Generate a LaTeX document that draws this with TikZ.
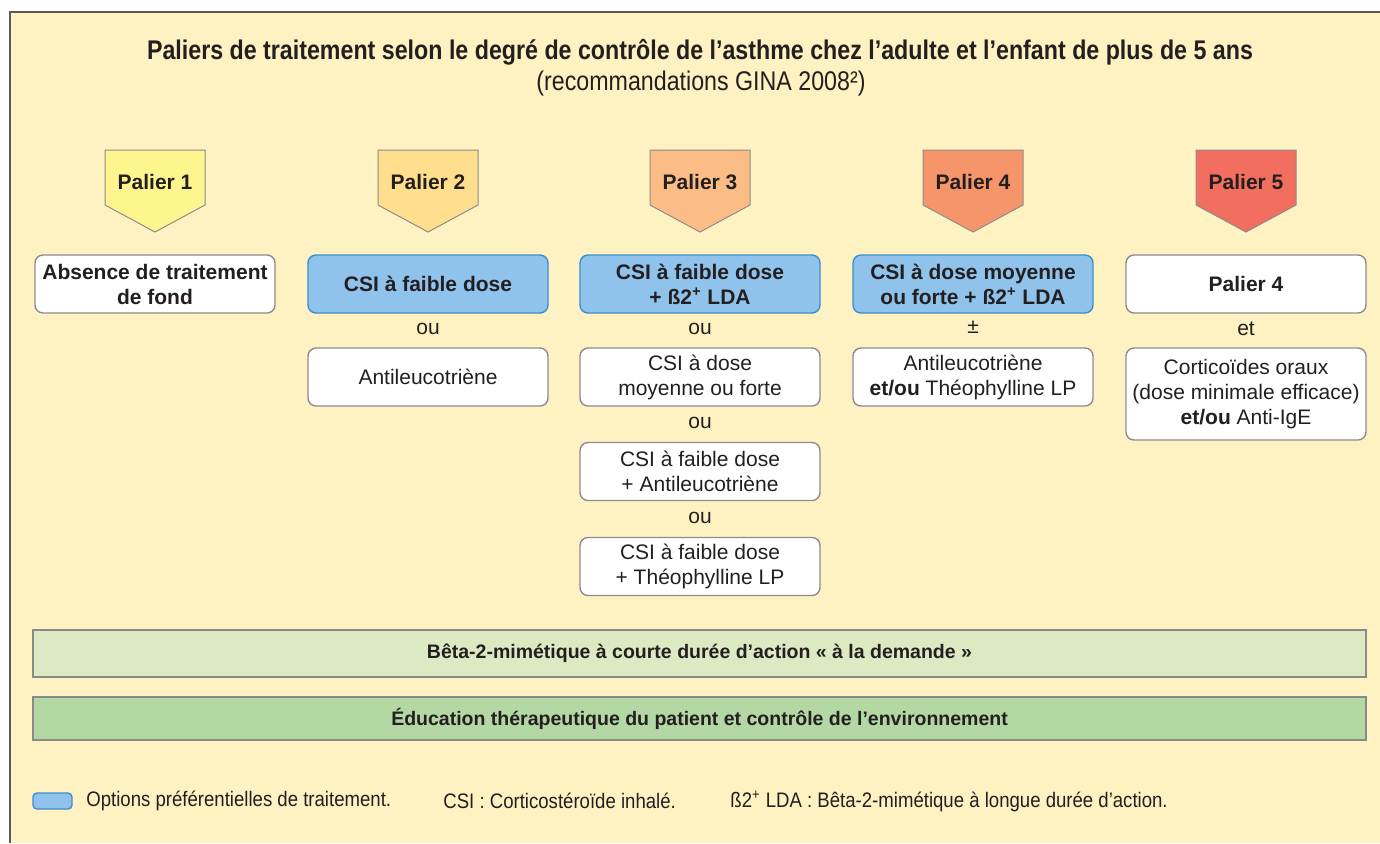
\documentclass[tikz,border=0pt]{standalone}
\usepackage{fontspec}
\setmainfont{Liberation Sans}
\newfontfamily\narrowfont[FakeStretch=0.86]{Liberation Sans}
\newfontfamily\legendfont[FakeStretch=0.885]{Liberation Sans}
\usepackage{tikz}
\usetikzlibrary{positioning}
\definecolor{bgyellow}{HTML}{FFF2C2}
\definecolor{framegray}{HTML}{5A5A5A}
\definecolor{ink}{HTML}{231F20}
\definecolor{palA}{HTML}{FFF58F}
\definecolor{palB}{HTML}{FFDF8E}
\definecolor{palC}{HTML}{FBBD85}
\definecolor{palD}{HTML}{F6956A}
\definecolor{palE}{HTML}{F26E5E}
\definecolor{preffill}{HTML}{90C3EC}
\definecolor{prefblue}{HTML}{3C8ED3}
\definecolor{boxgray}{HTML}{8C8C8C}
\definecolor{bandA}{HTML}{DDE9C2}
\definecolor{bandB}{HTML}{B4D8A4}
\definecolor{bandgray}{HTML}{8A8A8A}

\begin{document}
\begin{tikzpicture}[x=0.5pt, y=-0.5pt,
  title/.style={font=\narrowfont\bfseries\fontsize{13.5}{15}\selectfont, text=ink, inner sep=0pt},
  subtitle/.style={font=\narrowfont\fontsize{13.5}{15}\selectfont, text=ink, inner sep=0pt},
  palier/.style={draw=black!45, line width=0.5pt},
  paltext/.style={font=\bfseries\fontsize{10.5}{12.5}\selectfont, text=ink},
  choice/.style={rectangle, rounded corners=4pt, draw=boxgray, fill=white, line width=0.7pt,
    minimum width=120pt, minimum height=29pt, align=center, inner sep=1pt,
    font=\fontsize{10.5}{12.5}\selectfont, text=ink},
  boldchoice/.style={choice, font=\bfseries\fontsize{10.5}{12.5}\selectfont},
  pref/.style={boldchoice, draw=prefblue, fill=preffill},
  link/.style={font=\fontsize{10.5}{12.5}\selectfont, text=ink, inner sep=0pt},
  band/.style={rectangle, draw=bandgray, line width=0.9pt, minimum width=666.5pt, align=center,
    font=\bfseries\fontsize{9.75}{12}\selectfont, text=ink},
  legend/.style={font=\legendfont\fontsize{10.5}{12.5}\selectfont, text=ink, anchor=west, inner sep=0pt}]
\useasboundingbox (0,0) rectangle (1380,843);
\fill[bgyellow] (10,12) rectangle (1380,843);
\draw[framegray, line width=1pt] (10,843) -- (10,12) -- (1380,12);

% title
\node (t) at (700,52) [title] {Paliers de traitement selon le degré de contrôle de l’asthme chez l’adulte et l’enfant de plus de 5 ans};
\node (st) at (701,84) [subtitle] {(recommandations GINA 2008²)};

% paliers
\draw[palier, fill=palA] (105,150) -- ++(100,0) -- ++(0,55) -- ++(-50,27) -- ++(-50,-27) -- cycle;
\draw[palier, fill=palB] (378,150) -- ++(100,0) -- ++(0,55) -- ++(-50,27) -- ++(-50,-27) -- cycle;
\draw[palier, fill=palC] (650,150) -- ++(100,0) -- ++(0,55) -- ++(-50,27) -- ++(-50,-27) -- cycle;
\draw[palier, fill=palD] (923,150) -- ++(100,0) -- ++(0,55) -- ++(-50,27) -- ++(-50,-27) -- cycle;
\draw[palier, fill=palE] (1196,150) -- ++(100,0) -- ++(0,55) -- ++(-50,27) -- ++(-50,-27) -- cycle;
\node (p1) at (155,182) [paltext] {Palier 1};
\node (p2) at (428,182) [paltext] {Palier 2};
\node (p3) at (700,182) [paltext] {Palier 3};
\node (p4) at (973,182) [paltext] {Palier 4};
\node (p5) at (1246,182) [paltext] {Palier 5};

% palier 1
\node (a1) at (155,284) [boldchoice] {Absence de traitement\\de fond};

% palier 2
\node (b1) at (428,284) [pref] {CSI à faible dose};
\node (b0) at (428,329) [link] {ou};
\node (b2) at (428,377) [choice] {Antileucotriène};

% palier 3
\node (c1) at (700,284) [pref] {CSI à faible dose\\+ ß2\textsuperscript{+} LDA};
\node (c0) at (700,329) [link] {ou};
\node (c2) at (700,377) [choice] {CSI à dose\\moyenne ou forte};
\node (c3) at (700,423) [link] {ou};
\node (c4) at (700,471.5) [choice] {CSI à faible dose\\+ Antileucotriène};
\node (c5) at (700,518) [link] {ou};
\node (c6) at (700,566.5) [choice] {CSI à faible dose\\+ Théophylline LP};

% palier 4
\node (d1) at (973,284) [pref] {CSI à dose moyenne\\ou forte + ß2\textsuperscript{+} LDA};
\node (d0) at (973,327) [link] {±};
\node (d2) at (973,377) [choice] {Antileucotriène\\\textbf{et/ou} Théophylline LP};

% palier 5
\node (e1) at (1246,284) [boldchoice] {Palier 4};
\node (e0) at (1246,329) [link] {et};
\node (e2) at (1246,394) [choice, minimum height=46pt] {Corticoïdes oraux\\(dose minimale efficace)\\\textbf{et/ou} Anti-IgE};

% bandes
\node (f1) at (699.5,653.5) [band, fill=bandA, minimum height=23.5pt] {Bêta-2-mimétique à courte durée d’action « à la demande »};
\node (f2) at (699.5,718.5) [band, fill=bandB, minimum height=21.5pt] {Éducation thérapeutique du patient et contrôle de l’environnement};

% legende
\node (k) at (52.5,801) [rectangle, rounded corners=2pt, draw=prefblue, fill=preffill, line width=0.7pt, minimum width=19.5pt, minimum height=8pt, inner sep=0pt] {};
\node (k1) at (86,801) [legend] {Options préférentielles de traitement.};
\node (k2) at (443,801) [legend] {CSI : Corticostéroïde inhalé.};
\node (k3) at (730,801) [legend] {ß2\textsuperscript{+} LDA : Bêta-2-mimétique à longue durée d’action.};
\end{tikzpicture}
\end{document}
